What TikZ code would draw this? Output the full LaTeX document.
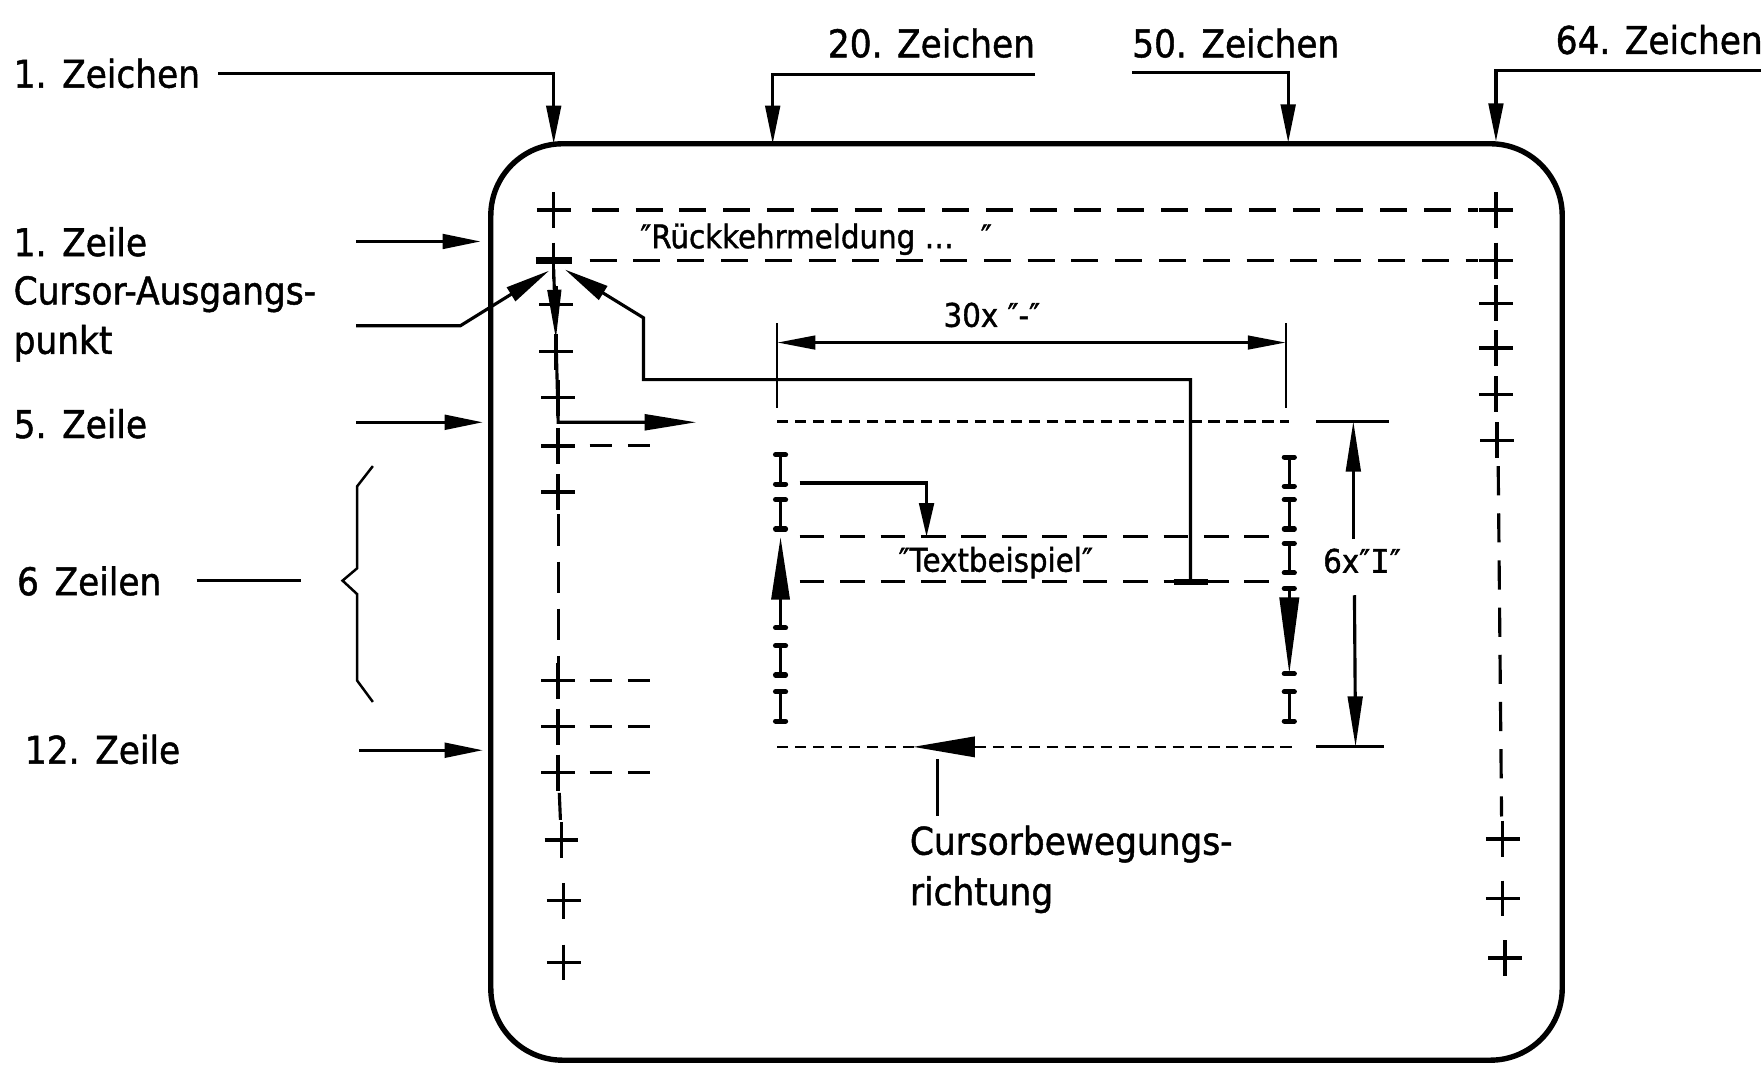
\documentclass[tikz,border=0pt]{standalone}
\usepackage{fontspec}
\setmainfont{DejaVu Sans}[FakeStretch=0.9,FakeBold=1.2]
\newfontfamily\serifI{DejaVu Sans Mono}[FakeBold=1.2]
\usetikzlibrary{arrows.meta}
\tikzset{
  ln/.style={line width=2.8pt},
  big/.style={font=\fontsize{34}{40}\selectfont, inner sep=0pt, anchor=base west},
  mid/.style={font=\fontsize{29}{34}\selectfont, inner sep=0pt, anchor=base west},
  arrw/.style 2 args={ln,-{Triangle[length=#1,width=#2]}},
  plus/.pic={\draw[line width=3pt] (-15,0)--(15,0) (0,-16)--(0,16);},
  ibar/.pic={\draw[line width=3.2pt] (0,-13)--(0,13);
             \draw[line width=4.5pt,line cap=round] (-4.5,-13)--(4.5,-13) (-4.5,13)--(4.5,13);},
  serifbar/.pic={\draw[line width=4.5pt,line cap=round] (-4.5,0)--(4.5,0);},
  longdash/.style={ln, dash pattern=on 24pt off 15pt},
  shortdash/.style={line width=2.4pt, dash pattern=on 10pt off 6pt},
  middash/.style={ln, dash pattern=on 22pt off 14pt},
}
\begin{document}
\begin{tikzpicture}[x=1pt,y=-1pt]
\fill[white] (0,0) rectangle (1568,948);
\useasboundingbox (0,0) rectangle (1568,948);

% ---------- labels ----------
\node[big] (z1)   at (12,78)   {1.\hspace{14pt}Zeichen};
\node[big] (z20)  at (737,51)  {20. Zeichen};
\node[big] (z50)  at (1008,51) {50. Zeichen};
\node[big] (z64)  at (1385,48) {64. Zeichen};
\node[big] (zl1)  at (12,228)  {1.\hspace{14pt}Zeile};
\node[big] (cap1) at (12,271)  {Cursor-Ausgangs-};
\node[big] (cap2) at (12,315)  {punkt};
\node[big] (zl5)  at (12,390)  {5.\hspace{14pt}Zeile};
\node[big] (zl6)  at (15,530)  {6\hspace{14pt}Zeilen};
\node[big] (zl12) at (22,680)  {12.\hspace{14pt}Zeile};
\node[big] (cb1)  at (810,761) {Cursorbewegungs-};
\node[big] (cb2)  at (810,806) {richtung};
\node[mid] (rk)   at (570,221) {″Rückkehrmeldung …\hspace{24pt}″};
\node[mid] (t30)  at (840,291) {30x ″-″};
\node[mid] (tb)   at (800,509) {″Textbeispiel″};
\node[mid] (t6)   at (1178,510) {6x″{\serifI I}″};

% ---------- screen ----------
\draw[line width=4.8pt, rounded corners=64pt] (437,128) rectangle (1391,944);

% ---------- top leaders ----------
\coordinate (a1)  at (493,128);
\coordinate (a20) at (688,128);
\coordinate (a50) at (1147,127);
\coordinate (a64) at (1332,126);
\draw[arrw={34pt}{13pt}] ([xshift=16pt]z1.east) -| (a1);
\draw[arrw={34pt}{13pt}] ([yshift=-15pt]z20.south east) -| (a20);
\draw[arrw={34pt}{13pt}] ([yshift=-13pt]z50.south west) -| (a50);
\draw[arrw={34pt}{13pt}] ([yshift=-14pt]z64.south east) -| (a64);

% ---------- left leaders ----------
\coordinate (r1s) at (317,215);  \coordinate (r1e) at (428,215);
\coordinate (r5s) at (317,376);  \coordinate (r5e) at (430,376);
\coordinate (r12s) at (320,668); \coordinate (r12e) at (430,668);
\coordinate (cas) at (317,290);  \coordinate (cak) at (410,290);
\coordinate (curL) at (489,241);
\coordinate (z6s) at (175,517);  \coordinate (z6e) at (268,517);
\draw[arrw={34pt}{13pt}] (r1s) -- (r1e);
\draw[arrw={34pt}{13pt}] (r5s) -- (r5e);
\draw[arrw={34pt}{13pt}] (r12s) -- (r12e);
\draw[arrw={40pt}{14pt}] (cas) -- (cak) -- (curL);
\draw[ln] (z6s) -- (z6e);
\draw[line width=2.2pt] (332,415) -- (318,433) -- (318,506) -- (305,517) -- (318,529) -- (318,606) -- (332,625);

% ---------- first lines ----------
\draw[longdash] (527,187) -- (1316,187);
\draw[longdash] (525,232) -- (1316,232);

% ---------- left column ----------
\foreach \px/\py in {493/187,493/232,495/271,495/313,497/354,497/397,497/438,497/606,497/647,497/688,500/748,502/802,502/857}
  \pic at (\px,\py) {plus};
\draw[line width=5.5pt] (477,232) -- (509,232);
\draw[arrw={44pt}{12pt}] (493,240) -- (495,302);
\draw[arrw={46pt}{14pt}] (495,298) -- (497,376) -- (620,376);
\draw[ln, dash pattern=on 28pt off 14pt] (497,458) -- (497,590);
\draw[ln] (498,706) -- (499,730);
\foreach \py in {397,606,647,688}
  \draw[ln, dash pattern=on 20pt off 14pt] (525,\py) -- (582,\py);

% ---------- right column ----------
\foreach \px/\py in {1332/187,1332/232,1332/270,1332/310,1332/351,1333/392,1338/747,1338/800,1340/853}
  \pic at (\px,\py) {plus};
\draw[ln, dash pattern=on 26pt off 16pt] (1334,415) -- (1337,727);

% ---------- 30x dimension ----------
\coordinate (d30a) at (692,305);
\coordinate (d30b) at (1145,305);
\draw[line width=2pt] (692,288) -- (692,363);
\draw[line width=2pt] (1145,288) -- (1145,363);
\draw[ln, {Triangle[length=34pt,width=12pt]}-{Triangle[length=34pt,width=12pt]}] (d30a) -- (d30b);

% ---------- return path ----------
\coordinate (retS) at (1060,517);
\coordinate (curR) at (503,240);
\draw[arrw={40pt}{14pt}] (retS) -- (1060,338) -- (573,338) -- (573,283) -- (curR);
\draw[line width=5.5pt] (1045,518) -- (1076,518);

% ---------- text area ----------
\draw[shortdash] (692,375) -- (1148,375);
\draw[shortdash] (692,665) -- (1152,665);
\coordinate (bArrS) at (872,665);
\coordinate (bArrE) at (813,665);
\draw[line width=2.4pt, -{Triangle[length=55pt,width=18pt]}] (bArrS) -- (bArrE);
\draw[ln] (835,676) -- (835,727);

\draw[middash] (712,478) -- (1135,478);
\draw[middash] (712,518) -- (1135,518);

% left I column
\foreach \py in {418,458,588,629} \pic at (695,\py) {ibar};
\pic at (695,559) {serifbar};
\draw[line width=3.2pt, -{Triangle[length=56pt,width=16pt]}] (695,559) -- (695,478);
% right I column
\foreach \py in {420,458,497,629} \pic at (1148,\py) {ibar};
\pic at (1148,524) {serifbar};
\pic at (1148,600) {serifbar};
\draw[line width=3.2pt, -{Triangle[length=68pt,width=17pt]}] (1148,524) -- (1148,600);
% small arrow
\draw[arrw={30pt}{13pt}] (712,430) -- (825,430) -- (825,478);

% ---------- 6x dimension ----------
\draw[ln] (1172,375) -- (1237,375);
\draw[ln] (1172,665) -- (1232,665);
\coordinate (d6a) at (1205,375);
\coordinate (d6b) at (1207,665);
\draw[arrw={45pt}{13pt}] (1205,480) -- (d6a);
\draw[arrw={45pt}{13pt}] (1206,530) -- (d6b);
\end{tikzpicture}
\end{document}
